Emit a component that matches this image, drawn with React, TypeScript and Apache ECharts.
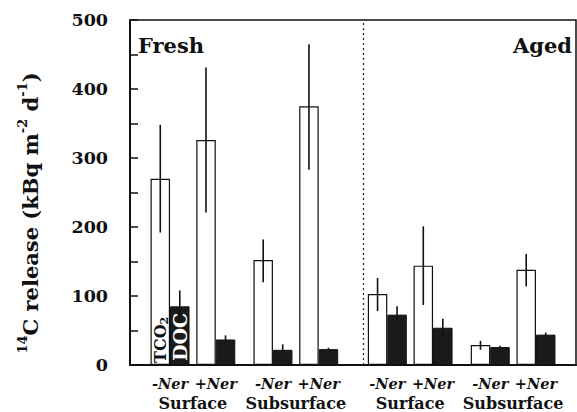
import React, { useEffect, useRef } from 'react';
import * as echarts from 'echarts';

// ---- data ----
const groups = ['Fresh', 'Aged'];
const depths = ['Surface', 'Subsurface'];
const treatments = ['-Ner', '+Ner'];
const seriesNames = ['TCO2', 'DOC'];
// order: Fresh/Surface/-Ner, Fresh/Surface/+Ner, Fresh/Subsurface/-Ner, Fresh/Subsurface/+Ner, then Aged ...
const tco2 = [270, 326, 152, 375, 103, 144, 29, 138];
const tco2Low = [192, 221, 120, 283, 78, 87, 22, 114];
const tco2High = [348, 431, 182, 465, 126, 201, 35, 161];
const doc = [85, 37, 22, 23, 73, 54, 26, 44];
const docLow = [62, 31, 14, 21, 61, 41, 24, 41];
const docHigh = [108, 43, 30, 25, 85, 67, 28, 47];
const yTicks = [0, 100, 200, 300, 400, 500];

// ---- layout (category slots) ----
const SLOT_COUNT = 39;
const barSlots = [3, 7, 12, 16, 22, 26, 31, 35];
const depthLabelSlots = [5, 14, 24, 33];
const separatorSlot = 19;
const BAR_W = 19.5;
const FONT = 'DejaVu Serif';

export default function App() {
  const ref = useRef<HTMLDivElement>(null);
  useEffect(() => {
    if (!ref.current) return;
    const chart = echarts.init(ref.current, null, { renderer: 'svg' });
    const cats = Array.from({ length: SLOT_COUNT }, (_, i) => 's' + i);
    const labelFor = (idx: number): string => {
      const b = barSlots.indexOf(idx);
      if (b >= 0) return '{n|' + treatments[b % 2] + '}';
      const d = depthLabelSlots.indexOf(idx);
      if (d >= 0) return '{n| }\n{g|' + depths[d % 2] + '}';
      return '';
    };
    const errRender = (offset: number) => (params: any, api: any) => {
      const lo = api.coord([api.value(0), api.value(1)]);
      const hi = api.coord([api.value(0), api.value(2)]);
      return {
        type: 'line',
        shape: { x1: lo[0] + offset, y1: lo[1], x2: hi[0] + offset, y2: hi[1] },
        style: { stroke: '#111', lineWidth: 1.6 },
      };
    };
    const option: any = {
      animation: false,
      backgroundColor: '#fff',
      textStyle: { fontFamily: FONT },
      grid: {
        left: 130, right: 1, top: 20, bottom: 47,
        show: true, borderColor: '#111', borderWidth: 1.5, backgroundColor: 'transparent',
      },
      xAxis: {
        type: 'category',
        data: cats,
        axisLine: { lineStyle: { color: '#111', width: 2 } },
        axisTick: { show: false },
        axisLabel: {
          interval: 0,
          margin: 8,
          formatter: (_v: string, idx: number) => labelFor(idx),
          rich: {
            n: { fontFamily: FONT, fontSize: 14.5, fontWeight: 'bold', fontStyle: 'italic', color: '#111', lineHeight: 20 },
            g: { fontFamily: FONT, fontSize: 16, fontWeight: 'bold', color: '#111', lineHeight: 20 },
          },
        },
      },
      yAxis: {
        type: 'value',
        min: 0,
        max: 500,
        interval: 50,
        splitLine: { show: false },
        axisLine: { show: true, lineStyle: { color: '#111', width: 2 } },
        axisTick: { show: true, inside: true, length: 8, lineStyle: { color: '#111', width: 1.5 } },
        axisLabel: {
          margin: 22,
          fontFamily: FONT,
          fontSize: 17.5,
          fontWeight: 'bold',
          color: '#111',
          formatter: (v: number) => (yTicks.indexOf(v) >= 0 ? String(v) : ''),
        },
      },
      graphic: [
        {
          type: 'text',
          x: 30,
          y: 213,
          rotation: Math.PI / 2,
          style: {
            text: '{s|14}{m|C release (kBq m}{s|-2}{m| d}{s|-1}{m|)}',
            align: 'center',
            verticalAlign: 'middle',
            rich: {
              m: { fontFamily: FONT, fontSize: 21, fontWeight: 'bold', fill: '#111', lineHeight: 28 },
              s: { fontFamily: FONT, fontSize: 13, fontWeight: 'bold', fill: '#111', verticalAlign: 'top', lineHeight: 16 },
            },
          },
        },
        {
          type: 'text', x: 138, y: 45,
          style: { text: groups[0], fontFamily: FONT, fontSize: 21, fontWeight: 'bold', fill: '#111', align: 'left', verticalAlign: 'middle' },
        },
        {
          type: 'text', x: 572, y: 45,
          style: { text: groups[1], fontFamily: FONT, fontSize: 21, fontWeight: 'bold', fill: '#111', align: 'right', verticalAlign: 'middle' },
        },
      ],
      series: [
        {
          name: seriesNames[0],
          type: 'bar',
          barWidth: BAR_W,
          barGap: '0%',
          data: tco2.map((v, i) => [barSlots[i], v]),
          itemStyle: { color: '#fff', borderColor: '#111', borderWidth: 1.2 },
          label: {
            show: true,
            position: 'insideBottom',
            rotate: 90,
            align: 'left',
            verticalAlign: 'middle',
            distance: 2,
            formatter: (p: any) => (p.dataIndex === 0 ? '{a|TCO}{b|2}' : ''),
            rich: {
              a: { fontFamily: FONT, fontSize: 16, fontWeight: 'bold', color: '#111', lineHeight: 20 },
              b: { fontFamily: FONT, fontSize: 11, fontWeight: 'bold', color: '#111', verticalAlign: 'bottom', lineHeight: 14 },
            },
          },
          z: 2,
        },
        {
          name: seriesNames[1],
          type: 'bar',
          barWidth: BAR_W,
          barGap: '0%',
          data: doc.map((v, i) => [barSlots[i], v]),
          itemStyle: { color: '#1a1a1a', borderColor: '#111', borderWidth: 1 },
          label: {
            show: true,
            position: 'insideBottom',
            rotate: 90,
            align: 'left',
            verticalAlign: 'middle',
            distance: 4,
            formatter: (p: any) => (p.dataIndex === 0 ? seriesNames[1] : ''),
            fontFamily: FONT,
            fontSize: 19,
            fontWeight: 'bold',
            color: '#fff',
          },
          markLine: {
            silent: true,
            symbol: ['none', 'none'],
            label: { show: false },
            lineStyle: { type: [2, 3], color: '#222', width: 1.2 },
            data: [{ xAxis: separatorSlot }],
          },
          z: 2,
        },
        {
          type: 'custom',
          name: 'TCO2 error',
          renderItem: errRender(-BAR_W / 2),
          encode: { x: 0, y: [1, 2] },
          data: tco2Low.map((l, i) => [barSlots[i], l, tco2High[i]]),
          z: 5,
        },
        {
          type: 'custom',
          name: 'DOC error',
          renderItem: errRender(BAR_W / 2),
          encode: { x: 0, y: [1, 2] },
          data: docLow.map((l, i) => [barSlots[i], l, docHigh[i]]),
          z: 5,
        },
      ],
    };
    chart.setOption(option);
    return () => chart.dispose();
  }, []);
  return <div ref={ref} style={{ width: 577, height: 412, position: 'absolute', left: 0, top: 0 }} />;
}
